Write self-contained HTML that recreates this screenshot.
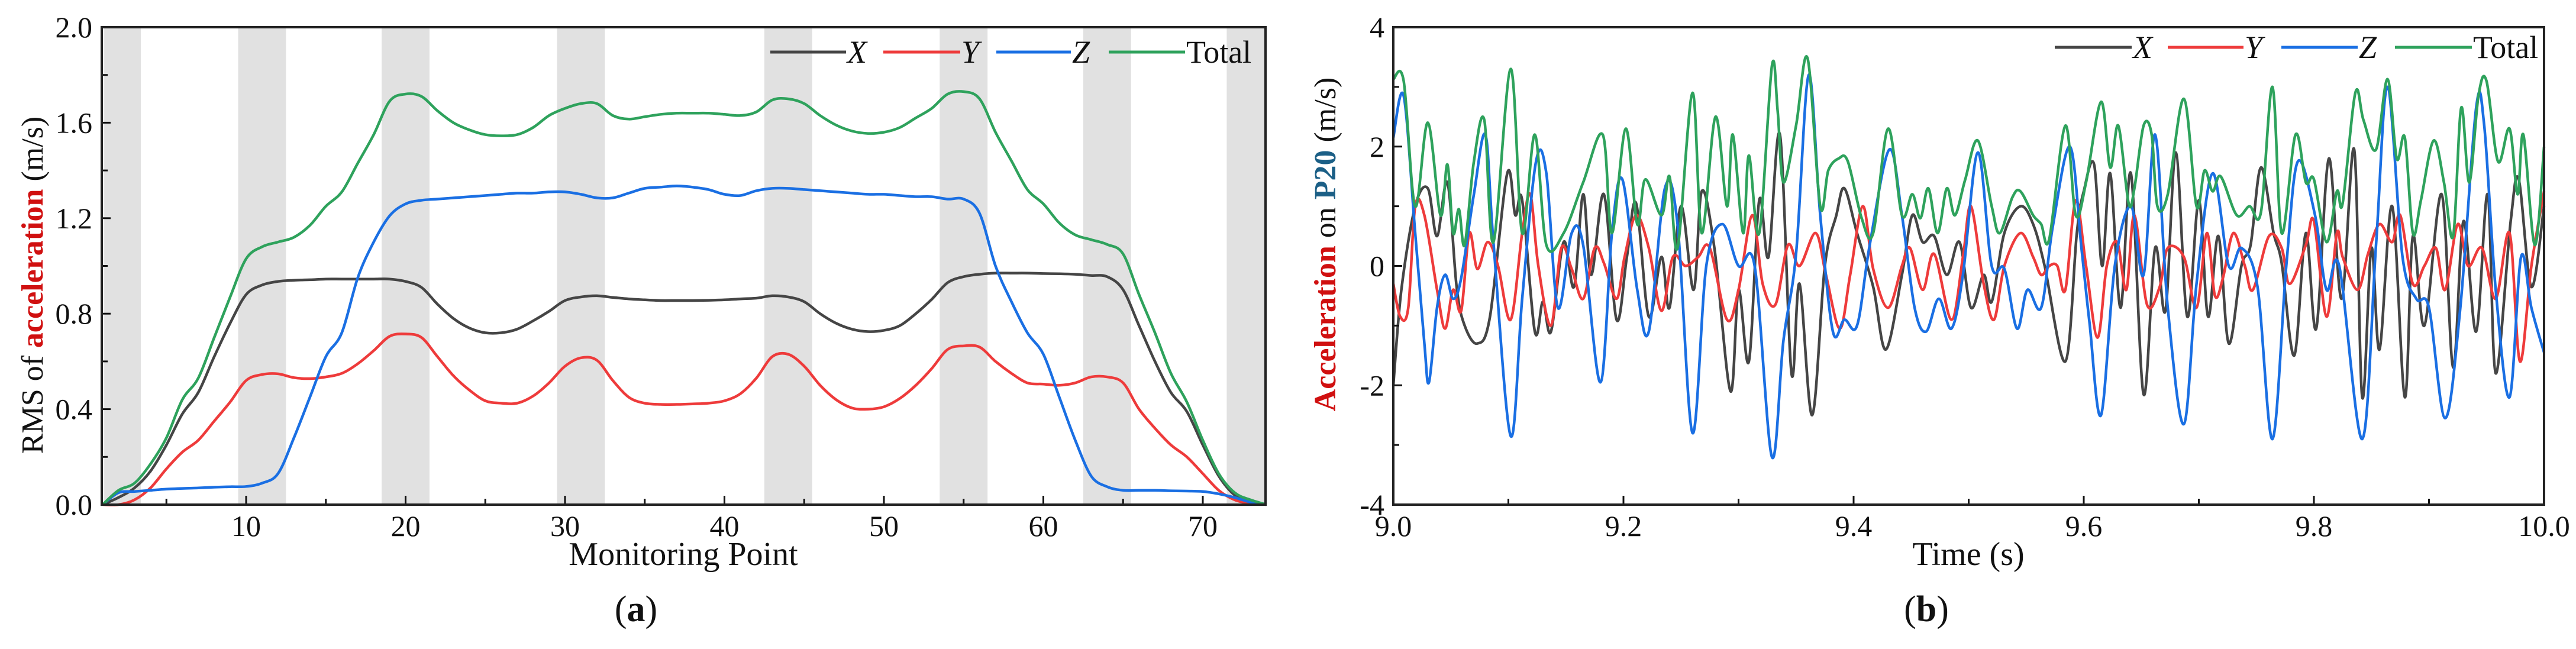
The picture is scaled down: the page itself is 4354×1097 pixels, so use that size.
<!DOCTYPE html>
<html><head><meta charset="utf-8">
<style>
html,body{margin:0;padding:0;background:#fff;}
svg{display:block;}
text{font-family:"Liberation Serif",serif;fill:#111;}
</style></head>
<body>
<svg id="fig" width="4354" height="1097" viewBox="0 0 4354 1097" xmlns="http://www.w3.org/2000/svg">
  <g id="chartA"></g>
  <g id="chartB"></g>
</svg>
<script>
// ---------- Chart (a) data ----------
const pointsA = Array.from({length:74},(_,i)=>i+1);
const rmsX = [0,0.03,0.07,0.14,0.25,0.38,0.47,0.62,0.76,0.88,0.92,0.935,0.94,0.942,0.945,0.945,0.945,0.945,0.945,0.935,0.91,0.84,0.78,0.74,0.72,0.72,0.735,0.77,0.81,0.855,0.87,0.875,0.868,0.862,0.858,0.855,0.855,0.855,0.856,0.858,0.862,0.865,0.875,0.87,0.85,0.8,0.76,0.735,0.725,0.73,0.75,0.8,0.86,0.93,0.955,0.965,0.97,0.97,0.97,0.968,0.967,0.965,0.96,0.955,0.9,0.75,0.6,0.47,0.39,0.25,0.12,0.04,0.01,0];
const rmsY = [0,0,0.02,0.07,0.15,0.22,0.27,0.35,0.43,0.52,0.545,0.548,0.532,0.528,0.535,0.55,0.59,0.645,0.705,0.715,0.7,0.62,0.54,0.48,0.435,0.425,0.425,0.455,0.51,0.58,0.615,0.605,0.52,0.45,0.425,0.42,0.42,0.422,0.425,0.435,0.465,0.53,0.62,0.63,0.58,0.5,0.44,0.405,0.4,0.41,0.445,0.5,0.57,0.65,0.665,0.66,0.6,0.55,0.51,0.505,0.5,0.51,0.535,0.535,0.51,0.4,0.32,0.25,0.2,0.13,0.06,0.02,0.005,0];
const rmsZ = [0,0.05,0.055,0.06,0.065,0.068,0.07,0.073,0.075,0.076,0.09,0.13,0.28,0.45,0.62,0.72,0.95,1.1,1.21,1.26,1.275,1.28,1.285,1.29,1.295,1.3,1.305,1.305,1.31,1.31,1.3,1.285,1.285,1.305,1.325,1.33,1.335,1.33,1.32,1.3,1.295,1.315,1.325,1.325,1.32,1.315,1.31,1.305,1.3,1.3,1.295,1.29,1.29,1.28,1.28,1.22,1.0,0.85,0.72,0.63,0.45,0.27,0.12,0.075,0.06,0.06,0.06,0.058,0.057,0.055,0.045,0.03,0.01,0];
const rmsTotal = [0,0.06,0.09,0.17,0.28,0.44,0.53,0.7,0.87,1.03,1.08,1.1,1.12,1.17,1.25,1.31,1.43,1.55,1.69,1.72,1.71,1.65,1.6,1.57,1.55,1.545,1.55,1.58,1.63,1.66,1.68,1.68,1.63,1.615,1.625,1.635,1.64,1.64,1.64,1.635,1.63,1.645,1.695,1.7,1.68,1.63,1.59,1.565,1.555,1.56,1.58,1.62,1.66,1.72,1.73,1.7,1.56,1.44,1.32,1.26,1.18,1.13,1.11,1.09,1.05,0.88,0.72,0.55,0.43,0.27,0.13,0.05,0.02,0];
const bandStarts = [1.1,9.5,18.5,29.5,42.5,53.5,62.5,71.5];
const bandEnds   = [3.4,12.5,21.5,32.5,45.5,56.5,65.5,74];
const yTicksA = [0,0.4,0.8,1.2,1.6,2.0];
const yTickLabelsA = ["0.0","0.4","0.8","1.2","1.6","2.0"];
const xTicksA = [10,20,30,40,50,60,70];

// ---------- Chart (b) data (time in ms after 9.0 s) ----------
const tTotal = [0,9,19,30,41,47,52,57,62,70,79,87,102,112,123,133,148,165,182,190,202,212,219,233,240,247,260,268,280,290,295,304,309,318,329,334,339,350,360,371,378,387,395,407,417,430,442,451,458,465,473,481,488,497,508,520,527,538,545,556,563,570,584,593,602,615,623,630,639,644,652,659,664,673,687,698,705,712,719,733,744,754,764,772,784,793,800,811,820,825,836,843,854,864,872,879,886,893,904,913,921,928,935,943,950,960,970,977,982,992,1000];
const vTotal = [3.13,3.1,1.0,2.4,0.85,1.7,0.55,0.95,0.35,1.75,2.45,0.4,3.3,0.55,2.2,0.35,0.55,1.4,2.2,0.55,2.3,0.7,1.45,0.85,1.5,0.3,2.9,0.55,2.5,1.0,2.2,0.55,1.85,0.55,3.35,2.6,1.4,2.35,3.48,1.0,1.6,1.8,1.75,0.8,0.55,2.3,0.85,1.2,0.8,1.3,0.55,1.3,0.85,1.45,2.1,1.0,0.55,1.15,1.25,0.85,0.7,0.45,2.35,0.85,1.4,2.75,1.65,2.35,1.05,1.3,2.35,2.2,1.0,1.2,2.8,1.0,1.6,1.25,1.5,0.85,1.0,0.9,3.0,0.55,2.2,1.4,1.45,0.4,1.25,1.05,2.9,2.45,1.95,3.13,1.8,2.15,0.55,1.1,2.1,1.4,0.5,2.65,1.4,2.85,3.1,1.75,2.3,1.2,2.2,0.35,2.0];
const tZ = [0,9,19,27,31,38,45,52,59,70,80,87,102,112,124,133,143,155,165,180,190,199,212,222,236,247,260,272,286,300,314,329,339,350,361,371,382,392,403,414,431,442,453,463,474,485,495,508,520,531,542,551,563,573,588,598,605,615,627,641,652,662,673,687,698,712,726,737,751,764,776,786,801,811,822,842,854,864,877,889,900,914,927,941,948,958,970,980,989,1000];
const vZ = [2.15,2.85,0.55,-1.3,-1.95,-0.7,-0.15,-0.55,-0.2,1.2,2.2,0.4,-2.85,-0.55,1.75,1.55,-0.7,0.55,0.35,-1.95,0.55,1.45,-0.4,-1.1,1.3,0.7,-2.8,0,0.7,0,0,-3.2,-1.25,0.2,3.2,0.85,-1.1,-0.9,-1.0,0.35,1.95,0.85,-0.7,-1.1,-0.55,-1.05,-0.15,1.9,0,-0.05,-1.05,-0.4,-0.7,0.65,2.0,0.3,-0.95,-2.5,0,1.0,-0.15,2.2,-0.7,-2.65,-0.3,1.55,0,0.3,-0.35,-2.9,0,1.75,0.85,-0.4,0,-2.9,0.35,3.0,0.15,-0.55,-0.7,-2.55,-0.75,2.65,2.35,-0.4,-2.2,0.15,-0.7,-1.45];
const tX = [0,7,19,30,38,47,55,62,73,84,99,106,112,123,130,137,148,157,165,172,183,194,203,211,222,233,240,250,261,268,279,293,300,309,318,326,336,346,353,364,375,385,392,403,417,428,442,451,460,470,481,492,502,513,520,531,545,556,566,584,594,600,609,616,623,632,641,652,662,671,680,690,700,708,717,726,737,745,754,765,772,783,793,802,813,824,835,842,850,857,868,879,886,896,911,921,930,941,951,958,971,978,989,1000];
const vX = [-2,-0.4,1.0,1.3,0.5,1.4,-0.35,-1.0,-1.3,-0.85,1.55,0.85,1.1,-1.1,-0.6,-1.1,0.4,-0.35,1.2,-0.15,1.2,-0.9,0.15,1.05,-0.85,0.15,-0.7,1.0,-0.4,1.25,0.3,-2.1,-0.4,-1.6,1.1,0.15,2.2,-1.8,-0.3,-2.5,0,0.85,1.3,0.55,-0.35,-1.4,-0.15,0.85,0.4,0.5,-0.15,0.4,-0.7,-0.15,-0.6,0.55,1.0,0.7,0,-1.6,0.55,1.25,1.7,0,1.55,-0.7,1.55,-2.15,0.3,-0.75,1.9,-0.85,1.1,-0.85,0.5,-1.3,0,0.35,1.65,0.55,0.05,-1.5,0.55,-1.05,1.8,-0.55,1.95,-2.2,0.3,-1.4,1.0,-2.2,0.5,-1.0,1.2,-1.7,0.75,-1.1,1.2,-1.8,0.75,1.45,-0.35,1.0];
const tY = [0,6,13,19,27,38,45,52,59,66,73,82,91,102,112,119,126,137,146,155,165,175,183,194,201,211,222,233,243,254,265,275,290,300,312,321,332,343,353,367,376,388,397,408,417,430,442,449,460,470,485,495,502,513,522,531,545,556,563,570,577,584,593,602,612,620,629,637,644,655,666,673,687,698,707,714,721,730,740,747,761,772,779,793,800,811,820,825,838,847,857,868,875,886,896,906,914,925,934,946,958,970,979,989,1000];
const vY = [-0.3,-0.85,-0.7,1.0,0.85,-0.4,-1.05,-0.4,-0.75,0.55,-0.05,0.4,0,-0.9,0.55,1.2,0,-1.0,0.3,-0.05,-0.55,0.3,0.05,-0.55,0.15,0.85,0.3,-0.75,0.15,0,0.15,0.3,-0.9,-0.4,0.85,-0.3,-0.65,0.35,0,0.55,-0.15,-1.05,-0.15,1.0,-0.05,-0.7,0,0.3,-0.4,0.2,-0.9,0.15,1.0,-0.3,-0.9,0,0.55,0.15,-0.15,0,0,-0.4,1.1,0,-1.2,0,0.4,-0.4,0.85,-0.65,-0.35,0.3,0.15,-0.7,0.55,-0.5,-0.2,0.55,0,-0.4,0.5,0.3,-0.3,0.35,0.75,-0.85,0.55,0.15,-0.4,0.2,0.7,0.4,0.85,-0.3,0,0.3,-0.4,0.7,0,0.3,-0.55,0.55,-1.6,0,1.25];
const yTicksB = [-4,-2,0,2,4];
const xTicksB = [9.0,9.2,9.4,9.6,9.8,10.0];

const NS = "http://www.w3.org/2000/svg";
const COLORS = {X:"#454545",Y:"#ee3b3b",Z:"#1a6fe3",Total:"#2ea25c"};
function mk(tag, attrs, parent){
  const e=document.createElementNS(NS,tag);
  for(const k in attrs) e.setAttribute(k,attrs[k]);
  parent.appendChild(e); return e;
}
function smoothPath(pts){
  let d="M"+pts[0][0].toFixed(1)+","+pts[0][1].toFixed(1);
  for(let i=0;i<pts.length-1;i++){
    const p0=pts[Math.max(0,i-1)],p1=pts[i],p2=pts[i+1],p3=pts[Math.min(pts.length-1,i+2)];
    const c1x=p1[0]+(p2[0]-p0[0])/6,c1y=p1[1]+(p2[1]-p0[1])/6;
    const c2x=p2[0]-(p3[0]-p1[0])/6,c2y=p2[1]-(p3[1]-p1[1])/6;
    d+=" C"+c1x.toFixed(1)+","+c1y.toFixed(1)+" "+c2x.toFixed(1)+","+c2y.toFixed(1)+" "+p2[0].toFixed(1)+","+p2[1].toFixed(1);
  }
  return d;
}
function legend(g,x0,y,positions){
  const names=["X","Y","Z","Total"];
  names.forEach((n,i)=>{
    const p=positions[i];
    const ln=mk("line",{x1:p[0],x2:p[1],y1:y,y2:y,stroke:COLORS[n],"stroke-width":5},g);
    
    
    const t=mk("text",{x:p[1]+2,y:y+18,"font-size":54,"font-style":n==="Total"?"normal":"italic"},g);
    t.textContent=n;
    
    
  });
}

// ---------- Draw chart (a) ----------
(function(){
  const g=document.getElementById("chartA");
  const L=172,R=2139,T=46,B=853;
  const xs=d=>146.5+26.95*d;
  const ys=v=>B-(B-T)*v/2.0;
  bandStarts.forEach((s,i)=>{
    const r=mk("rect",{x:xs(s),y:T,width:xs(bandEnds[i])-xs(s),height:B-T,fill:"#e1e1e1"},g);
    
    
  });
  const series=[["X",rmsX],["Y",rmsY],["Z",rmsZ],["Total",rmsTotal]];
  series.forEach(([n,arr])=>{
    const pts=pointsA.map((d,i)=>[xs(d),ys(arr[i])]);
    const p=mk("path",{d:smoothPath(pts),fill:"none",stroke:COLORS[n],"stroke-width":4.5,"stroke-linejoin":"round"},g);
    
    
  });
  for(let d=5; d<=70; d+=5){
    const major=d%10===0;
    const tk=mk("line",{x1:xs(d),x2:xs(d),y1:B,y2:B-(major?15:10),stroke:"#111","stroke-width":3},g);
    
    
  }
  xTicksA.forEach(d=>{
    const t=mk("text",{x:xs(d),y:906,"font-size":50,"text-anchor":"middle"},g);
    t.textContent=d;
    
    
  });
  for(let v=0.2; v<2.0; v+=0.2){
    const major=Math.round(v*10)%4===0;
    const tk=mk("line",{x1:L,x2:L+(major?15:10),y1:ys(v),y2:ys(v),stroke:"#111","stroke-width":3},g);
    
    
  }
  yTicksA.forEach((v,i)=>{
    const t=mk("text",{x:156,y:ys(v)+17,"font-size":50,"text-anchor":"end"},g);
    t.textContent=yTickLabelsA[i];
    
    
  });
  const fr=mk("rect",{x:L,y:T,width:R-L,height:B-T,fill:"none",stroke:"#222","stroke-width":4},g);
  
  
  legend(g,0,88,[[1302,1430],[1493,1623],[1684,1810],[1874,2003]]);
  const xl=mk("text",{x:1155,y:955,"font-size":56,"text-anchor":"middle"},g);
  xl.textContent="Monitoring Point";
  
  
  const yl=mk("text",{x:0,y:0,"font-size":52,"text-anchor":"middle",transform:"translate(72,482) rotate(-90)"},g);
  yl.innerHTML='RMS of <tspan font-weight="bold" fill="#d01010">acceleration</tspan> (m/s)';
  
  
  const cap=mk("text",{x:1075,y:1050,"font-size":62,"text-anchor":"middle"},g);
  cap.innerHTML='(<tspan font-weight="bold">a</tspan>)';
  
  
})();

// ---------- Draw chart (b) ----------
(function(){
  const g=document.getElementById("chartB");
  const L=2355,R=4300,T=46,B=853;
  const xs=t=>L+(R-L)*(t-9.0);
  const ys=v=>T+(B-T)*(4-v)/8;
  const series=[["X",tX,vX],["Y",tY,vY],["Z",tZ,vZ],["Total",tTotal,vTotal]];
  series.forEach(([n,ta,va])=>{
    const len=Math.min(ta.length,va.length);
    const pts=[];
    for(let i=0;i<len;i++) pts.push([xs(9+ta[i]/1000),ys(va[i])]);
    const p=mk("path",{d:smoothPath(pts),fill:"none",stroke:COLORS[n],"stroke-width":4.5,"stroke-linejoin":"round"},g);
    
    
  });
  for(let k=1;k<10;k++){
    const t=9+k/10, major=k%2===0;
    const tk=mk("line",{x1:xs(t),x2:xs(t),y1:B,y2:B-(major?15:10),stroke:"#111","stroke-width":3},g);
    
    
  }
  xTicksB.forEach(t=>{
    const e=mk("text",{x:xs(t),y:906,"font-size":50,"text-anchor":"middle"},g);
    e.textContent=t.toFixed(1);
    
    
  });
  for(let v=-3; v<4; v++){
    const major=v%2===0;
    const tk=mk("line",{x1:L,x2:L+(major?15:10),y1:ys(v),y2:ys(v),stroke:"#111","stroke-width":3},g);
    
    
  }
  yTicksB.forEach(v=>{
    const e=mk("text",{x:2340,y:ys(v)+17,"font-size":50,"text-anchor":"end"},g);
    e.textContent=v;
    
    
  });
  const fr=mk("rect",{x:L,y:T,width:R-L,height:B-T,fill:"none",stroke:"#222","stroke-width":4},g);
  
  
  legend(g,0,80,[[3473,3603],[3664,3792],[3856,3985],[4048,4178]]);
  const xl=mk("text",{x:3327,y:955,"font-size":56,"text-anchor":"middle"},g);
  xl.textContent="Time (s)";
  
  
  const yl=mk("text",{x:0,y:0,"font-size":52,"text-anchor":"middle",transform:"translate(2257,413) rotate(-90)"},g);
  yl.innerHTML='<tspan font-weight="bold" fill="#d01010">Acceleration</tspan> on <tspan font-weight="bold" fill="#1b5f86">P20</tspan> (m/s)';
  
  
  const cap=mk("text",{x:3256,y:1050,"font-size":62,"text-anchor":"middle"},g);
  cap.innerHTML='(<tspan font-weight="bold">b</tspan>)';
  
  
})();
</script>
</body></html>
